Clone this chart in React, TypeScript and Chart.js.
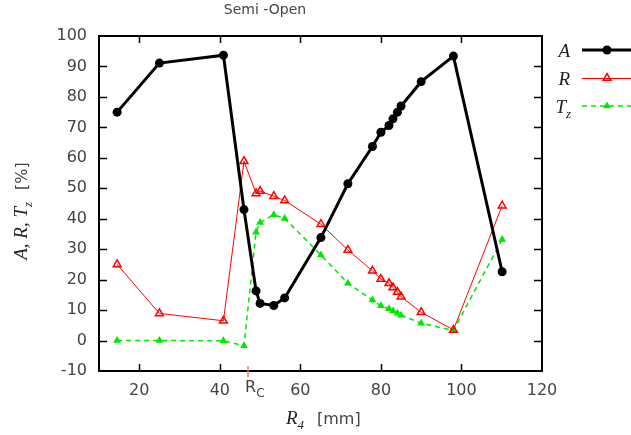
import React, { useEffect, useRef } from 'react';
import { Chart, registerables } from 'chart.js';

Chart.register(...registerables);

// ---- data ----
const xValues = [14.5, 25, 40.9, 46, 49, 50, 53.4, 56.1, 65.1, 71.8, 77.9, 80, 82, 83, 84.1, 85, 90, 98, 110.1];
const seriesA = [75, 91.1, 93.7, 43, 16.3, 12.2, 11.5, 14, 33.8, 51.5, 63.7, 68.4, 70.6, 72.8, 75, 77, 85, 93.4, 22.6];
const seriesR = [25, 8.9, 6.5, 58.9, 48.3, 49.1, 47.4, 46, 38.2, 29.7, 22.9, 20.2, 18.8, 17.4, 15.9, 14.4, 9.3, 3.5, 44.3];
const seriesT = [0, 0, -0.1, -1.7, 35.6, 38.8, 41.3, 40.1, 28.1, 18.8, 13.3, 11.4, 10.4, 9.7, 9.0, 8.3, 5.7, 3.3, 33.2];
const xTicks = [20, 40, 60, 80, 100, 120];
const yTicks = [-10, 0, 10, 20, 30, 40, 50, 60, 70, 80, 90, 100];
const rcValue = 47;
const titleText = 'Semi -Open';

const SERIF = '"Liberation Serif", "DejaVu Serif", serif';
const SANS = '"DejaVu Sans", sans-serif';
const GREY = '#444';
const GREEN = '#00e600';
const RED = '#ff0000';

function pts(ys: number[]) {
  return xValues.map((x, i) => ({ x, y: ys[i] }));
}

function tri(ctx: CanvasRenderingContext2D, cx: number, cy: number, r: number, fill: boolean, color: string) {
  const h = r * 1.5;
  const w = r * Math.sqrt(3);
  ctx.beginPath();
  ctx.moveTo(cx, cy - r);
  ctx.lineTo(cx - w / 2, cy - r + h);
  ctx.lineTo(cx + w / 2, cy - r + h);
  ctx.closePath();
  if (fill) {
    ctx.fillStyle = color;
    ctx.fill();
  } else {
    ctx.strokeStyle = color;
    ctx.lineWidth = 1.5;
    ctx.stroke();
  }
}

const decorPlugin = {
  id: 'decor',
  afterDraw(chart: any) {
    const { ctx, chartArea: a, scales } = chart;
    const xs = scales.x;
    const ys = scales.y;
    ctx.save();
    // frame
    ctx.strokeStyle = '#000';
    ctx.lineWidth = 2;
    ctx.strokeRect(a.left, a.top, a.right - a.left, a.bottom - a.top);
    // inward ticks
    ctx.lineWidth = 1.5;
    ctx.beginPath();
    for (const v of xTicks) {
      const p = Math.round(xs.getPixelForValue(v)) + 0.5;
      if (p <= a.left + 2 || p >= a.right - 2) continue;
      ctx.moveTo(p, a.bottom);
      ctx.lineTo(p, a.bottom - 7);
      ctx.moveTo(p, a.top);
      ctx.lineTo(p, a.top + 7);
    }
    for (const v of yTicks) {
      const p = Math.round(ys.getPixelForValue(v)) + 0.5;
      if (p <= a.top + 2 || p >= a.bottom - 2) continue;
      ctx.moveTo(a.left, p);
      ctx.lineTo(a.left + 8, p);
      ctx.moveTo(a.right, p);
      ctx.lineTo(a.right - 8, p);
    }
    ctx.stroke();

    // Rc marker
    const rc = xs.getPixelForValue(rcValue);
    ctx.strokeStyle = '#ff7070';
    ctx.lineWidth = 1.5;
    ctx.beginPath();
    ctx.moveTo(rc, a.bottom - 5);
    ctx.lineTo(rc, a.bottom + 6);
    ctx.stroke();
    ctx.fillStyle = GREY;
    ctx.textBaseline = 'alphabetic';
    ctx.textAlign = 'left';
    ctx.font = '16px ' + SANS;
    ctx.fillText('R', rc - 3, 392);
    const rw = ctx.measureText('R').width;
    ctx.font = '12px ' + SANS;
    ctx.fillText('C', rc - 3 + rw, 397);

    // title
    ctx.font = '14px ' + SANS;
    ctx.textAlign = 'center';
    ctx.textBaseline = 'middle';
    ctx.fillStyle = GREY;
    ctx.fillText(titleText, 265, 10);

    // x title
    ctx.textBaseline = 'alphabetic';
    ctx.textAlign = 'left';
    ctx.fillStyle = '#222';
    ctx.font = 'italic 19px ' + SERIF;
    ctx.fillText('R', 286, 424);
    const w = ctx.measureText('R').width;
    ctx.font = 'italic 13px ' + SERIF;
    ctx.fillText('4', 286 + w, 429);
    ctx.fillStyle = GREY;
    ctx.font = '16px ' + SANS;
    ctx.fillText('[mm]', 317, 424);

    // y title (rotated)
    ctx.save();
    ctx.translate(27, 211);
    ctx.rotate(-Math.PI / 2);
    ctx.fillStyle = '#222';
    ctx.font = 'italic 19px ' + SERIF;
    const t1 = 'A, R, T';
    const w1 = ctx.measureText(t1).width;
    ctx.font = 'italic 13px ' + SERIF;
    const w2 = ctx.measureText('z').width;
    ctx.font = '16px ' + SANS;
    const t3 = '[%]';
    const w3 = ctx.measureText(t3).width;
    const gap = 12;
    const total = w1 + w2 + gap + w3;
    let u = -total / 2;
    ctx.font = 'italic 19px ' + SERIF;
    ctx.fillText(t1, u, 0);
    u += w1;
    ctx.font = 'italic 13px ' + SERIF;
    ctx.fillText('z', u, 5);
    u += w2 + gap;
    ctx.fillStyle = GREY;
    ctx.font = '16px ' + SANS;
    ctx.fillText(t3, u, 0);
    ctx.restore();

    // legend
    const rows = [50, 78, 106];
    const lx1 = 582;
    const lx2 = 640;
    const mx = 607;
    ctx.fillStyle = '#222';
    ctx.textAlign = 'right';
    ctx.font = 'italic 19px ' + SERIF;
    ctx.fillText('A', 570, rows[0] + 7);
    ctx.fillText('R', 570, rows[1] + 7);
    ctx.fillText('T', 566, rows[2] + 7);
    ctx.textAlign = 'left';
    ctx.font = 'italic 13px ' + SERIF;
    ctx.fillText('z', 566, rows[2] + 12);
    // A
    ctx.strokeStyle = '#000';
    ctx.lineWidth = 3;
    ctx.beginPath();
    ctx.moveTo(lx1, rows[0]);
    ctx.lineTo(lx2, rows[0]);
    ctx.stroke();
    ctx.fillStyle = '#000';
    ctx.beginPath();
    ctx.arc(mx, rows[0], 4.5, 0, Math.PI * 2);
    ctx.fill();
    // R
    ctx.strokeStyle = RED;
    ctx.lineWidth = 1;
    ctx.beginPath();
    ctx.moveTo(lx1, rows[1] + 0.5);
    ctx.lineTo(lx2, rows[1] + 0.5);
    ctx.stroke();
    tri(ctx, mx, rows[1], 4.5, false, RED);
    // Tz
    ctx.strokeStyle = GREEN;
    ctx.lineWidth = 1.5;
    ctx.setLineDash([5, 4]);
    ctx.beginPath();
    ctx.moveTo(lx1, rows[2]);
    ctx.lineTo(lx2, rows[2]);
    ctx.stroke();
    ctx.setLineDash([]);
    tri(ctx, mx, rows[2], 4.5, true, GREEN);

    ctx.restore();
  },
};

export default function App() {
  const ref = useRef<HTMLCanvasElement | null>(null);
  useEffect(() => {
    if (!ref.current) return;
    const chart = new Chart(ref.current, {
      type: 'scatter',
      data: {
        datasets: [
          {
            label: 'A',
            data: pts(seriesA),
            showLine: true,
            borderColor: '#000',
            backgroundColor: '#000',
            borderWidth: 3,
            pointRadius: 4.5,
            pointBorderWidth: 0,
            pointStyle: 'circle',
          },
          {
            label: 'R',
            data: pts(seriesR),
            showLine: true,
            borderColor: RED,
            backgroundColor: 'rgba(255,255,255,0)',
            borderWidth: 1,
            pointRadius: 4.5,
            pointBorderWidth: 1.5,
            pointBorderColor: RED,
            pointStyle: 'triangle',
          },
          {
            label: 'Tz',
            data: pts(seriesT),
            showLine: true,
            borderColor: GREEN,
            backgroundColor: GREEN,
            borderWidth: 1.5,
            borderDash: [5, 4],
            pointRadius: 4.5,
            pointBorderWidth: 0,
            pointStyle: 'triangle',
          },
        ],
      },
      options: {
        animation: false,
        responsive: false,
        devicePixelRatio: 1,
        layout: { padding: { left: 0, right: 89, top: 36, bottom: 0 } },
        plugins: { legend: { display: false }, title: { display: false }, tooltip: { enabled: false } },
        scales: {
          x: {
            type: 'linear',
            min: 10,
            max: 120,
            afterBuildTicks: (axis: any) => {
              axis.ticks = xTicks.map((v) => ({ value: v }));
            },
            afterFit: (s: any) => {
              s.height = 64;
            },
            grid: { display: false, drawTicks: false },
            border: { display: false },
            ticks: { font: { family: 'DejaVu Sans', size: 16 }, color: GREY, padding: 10, maxRotation: 0, autoSkip: false },
          },
          y: {
            type: 'linear',
            min: -10,
            max: 100,
            afterBuildTicks: (axis: any) => {
              axis.ticks = yTicks.map((v) => ({ value: v }));
            },
            afterFit: (s: any) => {
              s.width = 99;
            },
            grid: { display: false, drawTicks: false },
            border: { display: false },
            ticks: { font: { family: 'DejaVu Sans', size: 16 }, color: GREY, padding: 12, autoSkip: false },
          },
        },
      },
      plugins: [decorPlugin],
    });
    return () => chart.destroy();
  }, []);
  return (
    <div style={{ position: 'fixed', left: 0, top: 0, width: 631, height: 435, background: '#fff' }}>
      <canvas ref={ref} width={631} height={435} style={{ display: 'block' }} />
    </div>
  );
}
